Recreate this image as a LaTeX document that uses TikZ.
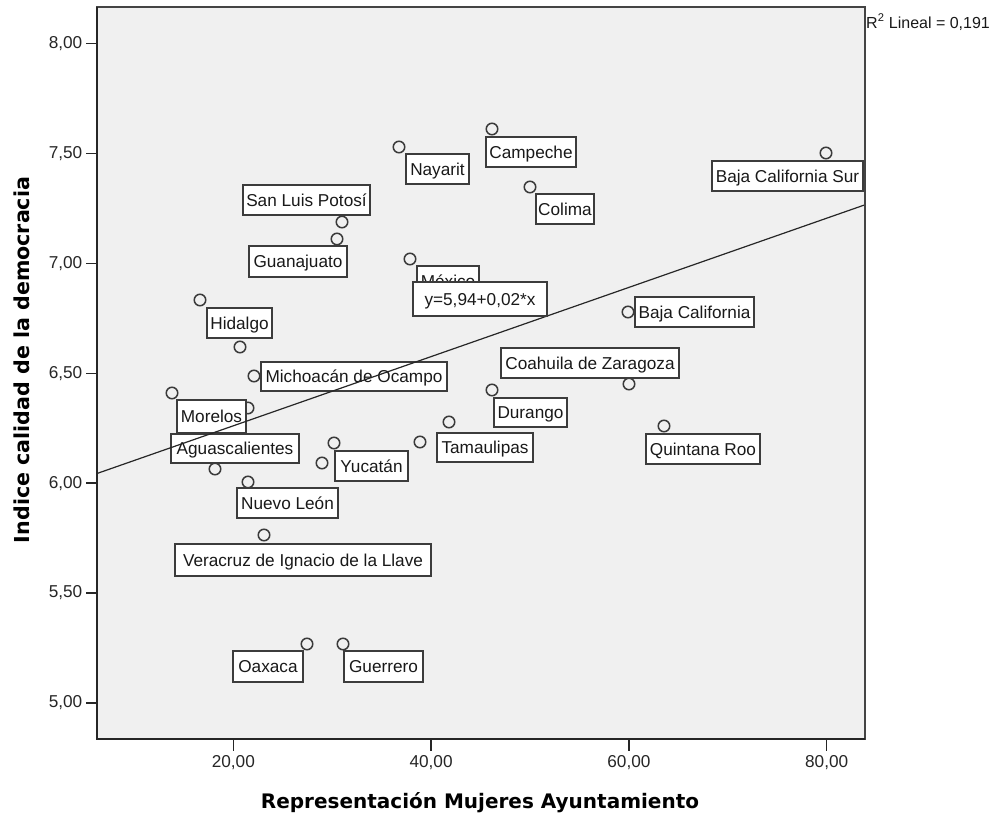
\documentclass[tikz,border=0pt]{standalone}
\usepackage{fontspec}
\setmainfont{Liberation Sans}
\newfontfamily\titlefont{DejaVu Sans}
\definecolor{plotbg}{HTML}{F0F0F0}
\definecolor{boxcol}{HTML}{3C3C3C}
\definecolor{ptcol}{HTML}{3A3A3A}
\definecolor{framecol}{HTML}{444444}
\newcommand\lab[6]{\node[lbl, minimum width={#4-#2}, minimum height={#5-#3}] (#1) at ({(#2+#4)/2},{(#3+#5)/2}) {#6};}
\begin{document}
\begin{tikzpicture}[x=1pt,y=-1pt,
  pt/.style={circle, draw=ptcol, line width=1.5pt, inner sep=0pt, minimum size=11.5pt},
  lbl/.style={draw=boxcol, line width=1.5pt, fill=white, inner sep=0pt, text height=12.3pt, text depth=0pt, font=\fontsize{17.2}{20}\selectfont, text=black!90},
  tick/.style={line width=1.3pt, draw=black!85},
  ticklab/.style={inner sep=0pt, font=\fontsize{17.2}{20}\selectfont, text=black!85},
  axtitle/.style={inner sep=0pt, font=\titlefont\bfseries\fontsize{20}{24}\selectfont, text=black}]
\useasboundingbox (0,0) rectangle (1002,818);
\fill[plotbg] (97,7) rectangle (865,739);
% points
\node[pt] (p1) at (492,129) {};
\node[pt] (p2) at (399,147) {};
\node[pt] (p3) at (826,153) {};
\node[pt] (p4) at (530,187) {};
\node[pt] (p5) at (342,222) {};
\node[pt] (p6) at (337,239) {};
\node[pt] (p7) at (410,259) {};
\node[pt] (p8) at (200,300) {};
\node[pt] (p9) at (240,347) {};
\node[pt] (p10) at (254,376) {};
\node[pt] (p11) at (628,312) {};
\node[pt] (p12) at (629,384) {};
\node[pt] (p13) at (492,390) {};
\node[pt] (p14) at (172,393) {};
\node[pt] (p15) at (248,408) {};
\node[pt] (p16) at (185,430) {};
\node[pt] (p17) at (201,430) {};
\node[pt] (p18) at (213,430) {};
\node[pt] (p19) at (240,430) {};
\node[pt] (p20) at (664,426) {};
\node[pt] (p21) at (449,422) {};
\node[pt] (p22) at (420,442) {};
\node[pt] (p23) at (334,443) {};
\node[pt] (p24) at (322,463) {};
\node[pt] (p25) at (215,469) {};
\node[pt] (p26) at (248,482) {};
\node[pt] (p27) at (264,535) {};
\node[pt] (p28) at (307,644) {};
\node[pt] (p29) at (343,644) {};
% labels
\lab{nay}{406}{154}{469}{184}{Nayarit}
\lab{cam}{486}{137}{576}{167}{Campeche}
\lab{col}{536}{194}{594}{224}{Colima}
\lab{bcs}{712}{161}{863}{191}{Baja California Sur}
\lab{slp}{243}{185}{370}{215}{San Luis Potosí}
\lab{gto}{249}{246}{347}{277}{Guanajuato}
\lab{mex}{417}{266}{479}{296}{México}
\lab{hgo}{207}{308}{272}{338}{Hidalgo}
\lab{mich}{261}{362}{447}{391}{Michoacán de Ocampo}
\lab{bc}{635}{297}{754}{327}{Baja California}
\lab{coa}{501}{348}{679}{378}{Coahuila de Zaragoza}
\lab{dgo}{494}{398}{567}{427}{Durango}
\lab{mor}{177}{400}{246}{433}{Morelos}
\lab{ags}{171}{434}{299}{463}{Aguascalientes}
\lab{yuc}{335}{451}{408}{481}{Yucatán}
\lab{tam}{437}{433}{533}{462}{Tamaulipas}
\lab{qroo}{646}{434}{760}{464}{Quintana Roo}
\lab{nl}{237}{488}{338}{518}{Nuevo León}
\lab{ver}{175}{544}{431}{576}{Veracruz de Ignacio de la Llave}
\lab{oax}{233}{651}{303}{682}{Oaxaca}
\lab{gro}{344}{651}{423}{682}{Guerrero}
% regression line
\coordinate (rl1) at (97,473.5);
\coordinate (rl2) at (865,204.8);
\draw[line width=1.2pt, black!85] (rl1) -- (rl2);
\lab{eq}{413}{282}{547}{316}{y=5,94+0,02*x}
% frame
\draw[line width=2pt, framecol] (97,7) rectangle (865,739);
\draw[line width=2pt, black!85] (97,7) -- (97,739) -- (865,739);
% y ticks
\foreach \v/\yy/\nm in {{8,00}/43.5/ya,{7,50}/153.4/yb,{7,00}/263.3/yc,{6,50}/373.2/yd,{6,00}/483.1/ye,{5,50}/593/yf,{5,00}/702.9/yg}{
  \draw[tick] (86,\yy) -- (97,\yy);
  \node[ticklab, anchor=east] (\nm) at (82.5,\yy) {\v};
}
% x ticks
\foreach \v/\xx/\nm in {{20,00}/233.3/xa,{40,00}/431.1/xb,{60,00}/628.9/xc,{80,00}/826.7/xd}{
  \draw[tick] (\xx,739) -- (\xx,750.5);
  \node[ticklab] (\nm) at (\xx,763) {\v};
}
\node[axtitle] (xtitle) at (480,803) {Representación Mujeres Ayuntamiento};
\node[axtitle, rotate=90, font=\titlefont\bfseries\fontsize{20.6}{24}\selectfont] (ytitle) at (22,360) {Indice calidad de la democracia};
\node[anchor=west, inner sep=0pt, font=\fontsize{16}{19}\selectfont, text=black!90] (r2) at (866,22) {R\textsuperscript{2} Lineal = 0,191};
\end{tikzpicture}
\end{document}
